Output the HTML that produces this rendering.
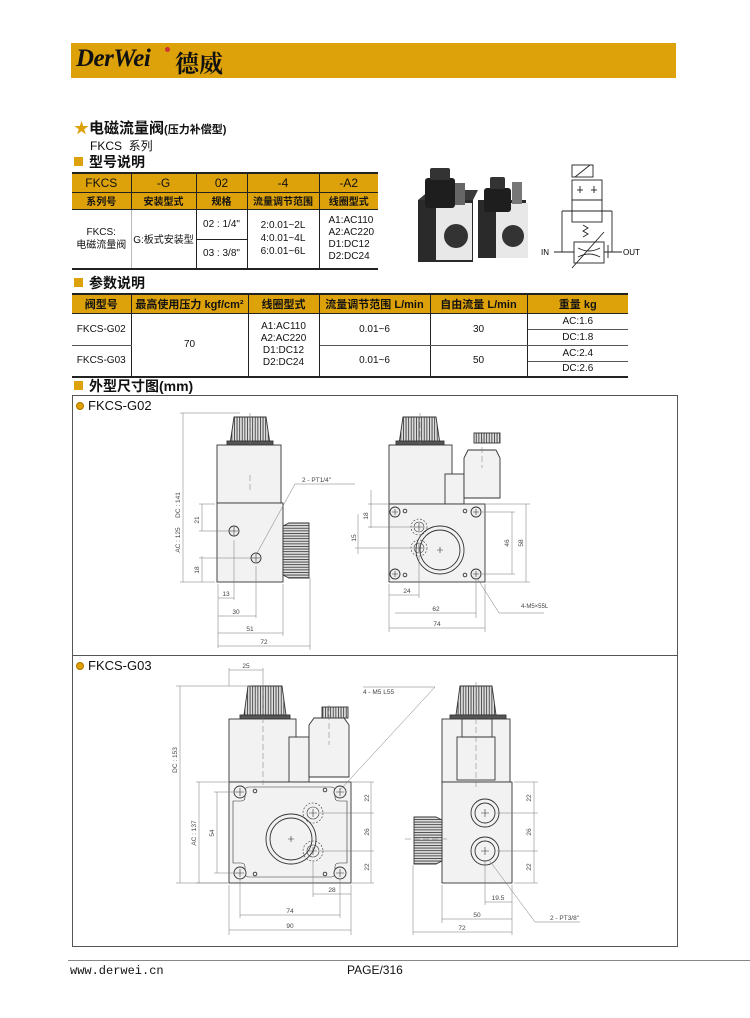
<!DOCTYPE html>
<html><head><meta charset="utf-8">
<style>
*{margin:0;padding:0;box-sizing:border-box}
body{width:750px;height:1018px;background:#fff;position:relative;overflow:hidden;font-family:"Liberation Sans","Noto Sans CJK SC",sans-serif;color:#111}
.a{position:absolute;white-space:nowrap}
.sq{position:absolute;width:9px;height:9px;background:#dda20a}
table{border-collapse:collapse;position:absolute;font-size:10px;text-align:center}
td{padding:0;vertical-align:middle}
</style></head><body>
<div class="a" style="left:71px;top:43px;width:605px;height:35px;background:#dda20a"></div>
<div class="a" style="left:76px;top:45px;font-family:'Liberation Serif',serif;font-style:italic;font-weight:bold;font-size:25px;color:#111;letter-spacing:-0.5px">DerWei</div>
<div class="a" style="left:165px;top:47px;width:5px;height:5px;border-radius:50%;background:#c33"></div>
<div class="a" style="left:175px;top:44px;font-family:'Noto Serif CJK SC',serif;font-weight:bold;font-size:24px;color:#111">德威</div>

<div class="a" style="left:74px;top:117px;font-size:15px;font-weight:bold"><span style="color:#dda20a">★</span>电磁流量阀<span style="font-size:11px">(压力补偿型)</span></div>
<div class="a" style="left:90px;top:137px;font-size:12px">FKCS&nbsp; 系列</div>
<div class="sq" style="left:74px;top:157px"></div>
<div class="a" style="left:89px;top:152px;font-size:14px;font-weight:bold">型号说明</div>

<table style="left:72px;top:172px;width:306px;border-top:2px solid #222;border-bottom:2px solid #222">
<tr style="height:19px;background:#dda20a;font-size:12px"><td style="width:59px;border-right:1px solid #222">FKCS</td><td style="width:65px;border-right:1px solid #222">-G</td><td style="width:51px;border-right:1px solid #222">02</td><td style="width:72px;border-right:1px solid #222">-4</td><td>-A2</td></tr>
<tr style="height:17px;background:#dda20a;font-weight:bold;border-bottom:1px solid #222"><td style="border-right:1px solid #222;border-top:1px solid #222">系列号</td><td style="border-right:1px solid #222;border-top:1px solid #222">安装型式</td><td style="border-right:1px solid #222;border-top:1px solid #222">规格</td><td style="border-right:1px solid #222;border-top:1px solid #222">流量调节范围</td><td style="border-top:1px solid #222">线圈型式</td></tr>
<tr style="height:30px"><td rowspan="2" style="border-right:1px solid #bbb;line-height:13px">FKCS:<br>电磁流量阀</td><td rowspan="2" style="border-right:1px solid #222">G:板式安装型</td><td style="border-right:1px solid #222;border-bottom:1px solid #222">02 : 1/4"</td><td rowspan="2" style="border-right:1px solid #222;line-height:13px">2:0.01~2L<br>4:0.01~4L<br>6:0.01~6L</td><td rowspan="2" style="line-height:12px;text-align:left;padding-left:9px">A1:AC110<br>A2:AC220<br>D1:DC12<br>D2:DC24</td></tr>
<tr style="height:30px"><td style="border-right:1px solid #222">03 : 3/8"</td></tr>
</table>

<div class="sq" style="left:74px;top:278px"></div>
<div class="a" style="left:89px;top:273px;font-size:14px;font-weight:bold">参数说明</div>
<table style="left:72px;top:293px;width:556px;border-top:2px solid #222;border-bottom:2px solid #222">
<tr style="height:19px;background:#dda20a;font-weight:bold;font-size:11px;border-bottom:1px solid #222"><td style="width:59px;border-right:1px solid #222">阀型号</td><td style="width:117px;border-right:1px solid #222">最高使用压力 kgf/cm²</td><td style="width:71px;border-right:1px solid #222">线圈型式</td><td style="width:111px;border-right:1px solid #222">流量调节范围 L/min</td><td style="width:97px;border-right:1px solid #222">自由流量 L/min</td><td>重量 kg</td></tr>
<tr style="height:16px"><td rowspan="2" style="border-right:1px solid #222;border-bottom:1px solid #555">FKCS-G02</td><td rowspan="4" style="border-right:1px solid #222">70</td><td rowspan="4" style="border-right:1px solid #222;line-height:12px">A1:AC110<br>A2:AC220<br>D1:DC12<br>D2:DC24</td><td rowspan="2" style="border-right:1px solid #222;border-bottom:1px solid #555">0.01~6</td><td rowspan="2" style="border-right:1px solid #222;border-bottom:1px solid #555">30</td><td style="border-bottom:1px solid #555">AC:1.6</td></tr>
<tr style="height:16px"><td style="border-bottom:1px solid #555">DC:1.8</td></tr>
<tr style="height:16px"><td rowspan="2" style="border-right:1px solid #222">FKCS-G03</td><td rowspan="2" style="border-right:1px solid #222">0.01~6</td><td rowspan="2" style="border-right:1px solid #222">50</td><td style="border-bottom:1px solid #555">AC:2.4</td></tr>
<tr style="height:16px"><td>DC:2.6</td></tr>
</table>

<div class="sq" style="left:74px;top:381px"></div>
<div class="a" style="left:89px;top:376px;font-size:14px;font-weight:bold">外型尺寸图(mm)</div>

<div class="a" style="left:72px;top:395px;width:606px;height:552px;border:1px solid #555"></div>
<div class="a" style="left:72px;top:655px;width:606px;height:1px;background:#555"></div>
<div class="a" style="left:76px;top:402px;width:8px;height:8px;border-radius:50%;background:#e0a000;border:1px solid #a70"></div>
<div class="a" style="left:88px;top:398px;font-size:13px">FKCS-G02</div>
<div class="a" style="left:76px;top:662px;width:8px;height:8px;border-radius:50%;background:#e0a000;border:1px solid #a70"></div>
<div class="a" style="left:88px;top:658px;font-size:13px">FKCS-G03</div>

<svg class="a" style="left:0;top:0" width="750" height="1018" viewBox="0 0 750 1018" font-family="Liberation Sans, sans-serif">
<defs>
<pattern id="st" width="2.6" height="10" patternUnits="userSpaceOnUse"><rect width="2.6" height="10" fill="#ddd"/><rect width="0.9" height="10" fill="#444"/></pattern>
<pattern id="sh" width="10" height="2.6" patternUnits="userSpaceOnUse"><rect width="10" height="2.6" fill="#ddd"/><rect width="10" height="0.9" fill="#444"/></pattern>
</defs>
<g>
<rect x="418" y="200" width="55" height="62" fill="#2a2a2a"/>
<polygon points="418,200 430,190 478,190 473,200" fill="#3a3a3a"/>
<rect x="436" y="203" width="36" height="57" fill="#e8e8e8"/>
<circle cx="456" cy="236" r="12" fill="#333"/>
<rect x="425" y="178" width="30" height="30" rx="3" fill="#1e1e1e"/>
<rect x="430" y="168" width="20" height="12" rx="2" fill="#333"/>
<rect x="455" y="183" width="10" height="22" fill="#666"/>
<rect x="478" y="200" width="48" height="58" fill="#2a2a2a"/>
<rect x="496" y="203" width="32" height="55" fill="#e8e8e8"/>
<circle cx="513" cy="236" r="11" fill="#333"/>
<rect x="484" y="188" width="27" height="24" rx="3" fill="#1e1e1e"/>
<rect x="490" y="177" width="15" height="12" rx="2" fill="#333"/>
<rect x="512" y="182" width="10" height="22" fill="#777"/>
</g>
<g fill="none" stroke="#222" stroke-width="0.9">
<rect x="572" y="165" width="21" height="12"/><line x1="575" y1="177" x2="590" y2="165"/>
<rect x="572" y="180" width="30" height="20"/><rect x="572" y="200" width="30" height="22"/>
<line x1="580" y1="186" x2="580" y2="193"/><line x1="594" y1="186" x2="594" y2="193"/><line x1="577" y1="190" x2="583" y2="190"/><line x1="591" y1="190" x2="597" y2="190"/>
<line x1="562" y1="211" x2="612" y2="211"/><polyline points="562,252 562,211"/><polyline points="612,252 612,211"/>
<path d="M583,225 l5,3 -5,3 5,3 -5,3"/>
<rect x="574" y="242" width="30" height="21"/>
<path d="M578,248 q11,6 22,0 M578,257 q11,-6 22,0"/>
<line x1="554" y1="252" x2="574" y2="252"/><line x1="604" y1="252" x2="622" y2="252"/>
<line x1="572" y1="268" x2="604" y2="232"/><line x1="608" y1="258" x2="608" y2="245"/>
</g>
<text x="541" y="255" font-size="8">IN</text><text x="623" y="255" font-size="8">OUT</text>

<g stroke="#333" stroke-width="0.9">
<path d="M234,417 h32 l4,27 h-40z" fill="url(#st)"/>
<rect x="227" y="441" width="46" height="4" fill="#555"/>
<rect x="217" y="445" width="64" height="58" fill="#f2f2f2"/>
<rect x="217" y="503" width="66" height="79" fill="#f2f2f2"/>
<path d="M283,526 l6,-3 h20 v55 h-20 l-6,-3z" fill="url(#sh)"/>
<circle cx="234" cy="531" r="5" fill="#eee"/><circle cx="256" cy="558" r="5" fill="#eee"/>
</g>
<g stroke="#333" stroke-width="0.6" fill="none">
<path d="M230,531h8M234,527v8M252,558h8M256,554v8"/>
</g>
<g stroke="#777" stroke-width="0.5" fill="none">
<path d="M183,413v169M180,413h60M180,582h35"/>
<path d="M202,504v27M199,504h16M199,531h35M202,556v26M199,558h57"/>
<path d="M218,584v64M234,540v60M256,566v52M283,584v52M310,578v72"/>
<path d="M218,598h16M218,616h38M218,633h65M218,646h92"/>
<path d="M256,555L295,484h60"/>
<path d="M250,413v35M250,475v15" stroke-dasharray="6,3"/>
</g>
<g font-size="6.5" fill="#444">
<text x="180" y="505" transform="rotate(-90 180 505)" text-anchor="middle">DC : 141</text>
<text x="180" y="540" transform="rotate(-90 180 540)" text-anchor="middle">AC : 125</text>
<text x="199" y="520" transform="rotate(-90 199 520)" text-anchor="middle">21</text>
<text x="199" y="570" transform="rotate(-90 199 570)" text-anchor="middle">18</text>
<text x="226" y="596" text-anchor="middle">13</text><text x="236" y="614" text-anchor="middle">30</text>
<text x="250" y="631" text-anchor="middle">51</text><text x="264" y="644" text-anchor="middle">72</text>
<text x="302" y="482">2 - PT1/4"</text>
</g>

<g stroke="#333" stroke-width="0.9">
<path d="M403,417 h33 l4,27 h-41z" fill="url(#st)"/>
<rect x="396" y="441" width="48" height="4" fill="#555"/>
<rect x="389" y="445" width="63" height="59" fill="#f2f2f2"/>
<rect x="445" y="474" width="19" height="30" fill="#f2f2f2"/>
<path d="M464,458 l4,-8 h28 l4,8 v40 h-36z" fill="#f2f2f2"/>
<rect x="474" y="433" width="26" height="10" fill="url(#st)"/>
<rect x="389" y="504" width="96" height="78" fill="#f2f2f2"/>
<circle cx="440" cy="550" r="24" fill="#f2f2f2"/><circle cx="440" cy="550" r="20" fill="none"/>
<circle cx="395" cy="512" r="5" fill="#eee"/><circle cx="476" cy="512" r="5" fill="#eee"/>
<circle cx="395" cy="574" r="5" fill="#eee"/><circle cx="476" cy="574" r="5" fill="#eee"/>
<circle cx="405" cy="511" r="1.8" fill="none"/><circle cx="465" cy="511" r="1.8" fill="none"/>
<circle cx="405" cy="575" r="1.8" fill="none"/><circle cx="465" cy="575" r="1.8" fill="none"/>
</g>
<g stroke="#333" stroke-width="0.6" fill="none">
<path d="M392,512h6M395,509v6M473,512h6M476,509v6M392,574h6M395,571v6M473,574h6M476,571v6M437,550h6M440,547v6"/>
<circle cx="419" cy="527" r="8" stroke-dasharray="2,1.5"/><circle cx="419" cy="548" r="8" stroke-dasharray="2,1.5"/>
<circle cx="419" cy="527" r="5"/><circle cx="419" cy="548" r="5"/>
<path d="M415,527h8M419,523v8M415,548h8M419,544v8"/>
</g>
<g stroke="#777" stroke-width="0.5" fill="none">
<path d="M371,490v38M368,504h20M368,527h45M358,514v40M355,548h58"/>
<path d="M512,512v62M482,512h33M482,574h33M526,504v78M486,504h44M486,582h44"/>
<path d="M389,584v48M419,556v42M476,580v38M485,584v48"/>
<path d="M389,595h30M395,613h81M389,628h96"/>
<path d="M477,578l22,35h45"/>
<path d="M420,413v35M482,438v30" stroke-dasharray="6,3"/>
</g>
<g font-size="6.5" fill="#444">
<text x="368" y="516" transform="rotate(-90 368 516)" text-anchor="middle">18</text>
<text x="356" y="538" transform="rotate(-90 356 538)" text-anchor="middle">15</text>
<text x="509" y="543" transform="rotate(-90 509 543)" text-anchor="middle">46</text>
<text x="523" y="543" transform="rotate(-90 523 543)" text-anchor="middle">58</text>
<text x="407" y="593" text-anchor="middle">24</text><text x="436" y="611" text-anchor="middle">62</text>
<text x="437" y="626" text-anchor="middle">74</text>
<text x="521" y="608" font-size="6">4-M5×55L</text>
</g>

<g stroke="#333" stroke-width="0.9">
<path d="M248,686 h34 l4,29 h-42z" fill="url(#st)"/>
<rect x="240" y="715" width="50" height="4" fill="#555"/>
<rect x="229" y="719" width="67" height="63" fill="#f2f2f2"/>
<rect x="289" y="737" width="20" height="45" fill="#f2f2f2"/>
<path d="M309,725 l5,-7 h30 l5,7 v52 h-40z" fill="#f2f2f2"/>
<rect x="322" y="707" width="26" height="11" fill="url(#st)"/>
<rect x="229" y="782" width="122" height="101" fill="#f2f2f2"/>
<path d="M249,787h82q4,0 4,4v6q0,4 4,4h8v62h-8q-4,0 -4,4v6q0,4 -4,4h-82q-4,0 -4,-4v-6q0,-4 -4,-4h-8v-62h8q4,0 4,-4v-6q0,-4 4,-4z" fill="none" stroke-width="0.6"/>
<circle cx="291" cy="839" r="25" fill="#f2f2f2"/><circle cx="291" cy="839" r="21" fill="none"/>
<circle cx="240" cy="792" r="6" fill="#eee"/><circle cx="340" cy="792" r="6" fill="#eee"/>
<circle cx="240" cy="873" r="6" fill="#eee"/><circle cx="340" cy="873" r="6" fill="#eee"/>
<circle cx="255" cy="791" r="1.8" fill="none"/><circle cx="325" cy="790" r="1.8" fill="none"/>
<circle cx="255" cy="874" r="1.8" fill="none"/><circle cx="325" cy="874" r="1.8" fill="none"/>
</g>
<g stroke="#333" stroke-width="0.6" fill="none">
<path d="M236,792h8M240,788v8M336,792h8M340,788v8M236,873h8M240,869v8M336,873h8M340,869v8M288,839h6M291,836v6"/>
<circle cx="313" cy="813" r="10" stroke-dasharray="2,1.5"/><circle cx="313" cy="851" r="10" stroke-dasharray="2,1.5"/>
<circle cx="313" cy="813" r="6"/><circle cx="313" cy="851" r="6"/>
<path d="M309,813h8M313,809v8M309,851h8M313,847v8"/>
</g>
<g stroke="#777" stroke-width="0.5" fill="none">
<path d="M229,668v18M263,668v20M229,670h34"/>
<path d="M180,686v197M176,686h76M176,883h52M199,782v101M196,782h32M196,883h32M217,792v81M214,792h24M214,873h24"/>
<path d="M371,782v101M352,782h22M320,813h54M320,851h54M352,883h22"/>
<path d="M229,885v50M240,880v38M313,860v37M340,880v38M351,885v50"/>
<path d="M313,894h38M240,915h100M229,930h122"/>
<path d="M340,790L435,687h-72"/>
<path d="M263,690v95M329,705v40" stroke-dasharray="6,3"/>
</g>
<g font-size="6.5" fill="#444">
<text x="246" y="668" text-anchor="middle">25</text>
<text x="177" y="760" transform="rotate(-90 177 760)" text-anchor="middle">DC : 153</text>
<text x="196" y="833" transform="rotate(-90 196 833)" text-anchor="middle">AC : 137</text>
<text x="214" y="833" transform="rotate(-90 214 833)" text-anchor="middle">54</text>
<text x="369" y="798" transform="rotate(-90 369 798)" text-anchor="middle">22</text>
<text x="369" y="832" transform="rotate(-90 369 832)" text-anchor="middle">26</text>
<text x="369" y="867" transform="rotate(-90 369 867)" text-anchor="middle">22</text>
<text x="332" y="892" text-anchor="middle">28</text><text x="290" y="913" text-anchor="middle">74</text>
<text x="290" y="928" text-anchor="middle">90</text>
<text x="363" y="694">4 - M5 L55</text>
</g>

<g stroke="#333" stroke-width="0.9">
<path d="M460,686 h32 l4,29 h-40z" fill="url(#st)"/>
<rect x="450" y="715" width="56" height="4" fill="#555"/>
<rect x="442" y="719" width="68" height="63" fill="#f2f2f2"/>
<rect x="462" y="719" width="30" height="18" fill="none"/>
<rect x="457" y="737" width="38" height="43" fill="none"/>
<rect x="442" y="782" width="70" height="101" fill="#f2f2f2"/>
<path d="M442,820 l-6,-3 h-22 v47 h22 l6,-3z" fill="url(#sh)"/>
<circle cx="485" cy="813" r="14" fill="#f2f2f2"/><circle cx="485" cy="813" r="10" fill="none"/>
<circle cx="485" cy="851" r="14" fill="#f2f2f2"/><circle cx="485" cy="851" r="10" fill="none"/>
</g>
<g stroke="#333" stroke-width="0.6" fill="none"><path d="M481,813h8M485,809v8M481,851h8M485,847v8"/></g>
<g stroke="#777" stroke-width="0.5" fill="none">
<path d="M534,782v101M514,782h24M497,813h41M497,851h41M514,883h24"/>
<path d="M413,865v70M442,885v38M485,860v45M512,885v50"/>
<path d="M485,902h27M442,919h70M413,932h99"/>
<path d="M489,860l46,62h45"/>
<path d="M476,682v105M405,839h42" stroke-dasharray="6,3"/>
</g>
<g font-size="6.5" fill="#444">
<text x="531" y="798" transform="rotate(-90 531 798)" text-anchor="middle">22</text>
<text x="531" y="832" transform="rotate(-90 531 832)" text-anchor="middle">26</text>
<text x="531" y="867" transform="rotate(-90 531 867)" text-anchor="middle">22</text>
<text x="498" y="900" text-anchor="middle">19.5</text><text x="477" y="917" text-anchor="middle">50</text>
<text x="462" y="930" text-anchor="middle">72</text>
<text x="550" y="920">2 - PT3/8"</text>
</g>
</svg>

<div class="a" style="left:68px;top:960px;width:682px;height:1px;background:#888"></div>
<div class="a" style="left:70px;top:964px;font-family:'Liberation Mono',monospace;font-size:12px">www.derwei.cn</div>
<div class="a" style="left:347px;top:963px;font-family:'Liberation Sans Narrow','Liberation Sans',sans-serif;font-size:12px">PAGE/316</div>
</body></html>
